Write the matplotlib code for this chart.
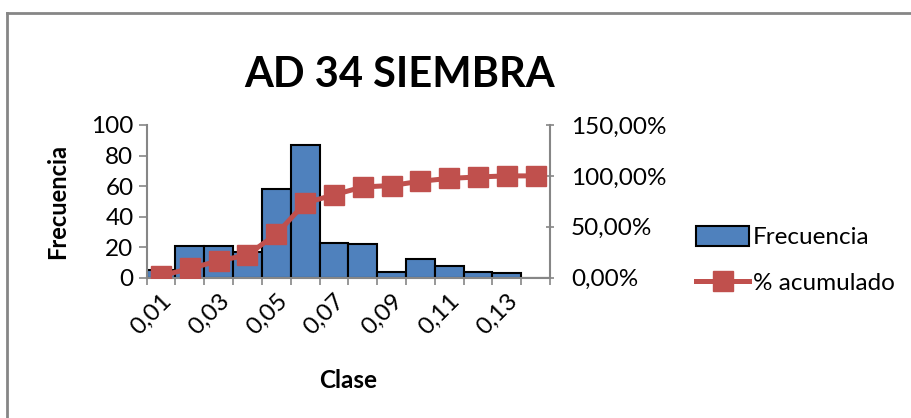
import matplotlib
matplotlib.use("Agg")
import matplotlib.pyplot as plt
from matplotlib.lines import Line2D
from matplotlib.patches import Patch
from matplotlib.ticker import FuncFormatter, FixedLocator

plt.rcParams['font.family'] = ['Lato', 'DejaVu Sans']

# data
clases = ['0,01', '0,02', '0,03', '0,04', '0,05', '0,06', '0,07',
          '0,08', '0,09', '0,10', '0,11', '0,12', '0,13', 'y mayor...']
frecuencia = [5, 21, 21, 17, 58, 87, 23, 22, 4, 12, 8, 4, 3, 0]
acumulado = [1.75, 9.12, 16.49, 22.46, 42.81, 73.33, 81.40,
             89.12, 90.53, 94.74, 97.54, 98.95, 100.0, 100.0]

blue = '#4F81BD'
red = '#C0504D'
grey = '#868686'
fs = 17.5

fig = plt.figure(figsize=(9.11, 4.18), dpi=100)
ax = fig.add_axes([0.161, 0.3356, 0.4427, 0.3654])
ax2 = ax.twinx()

x = list(range(len(clases)))
ax.bar(x, frecuencia, width=1.0, color=blue, edgecolor='black', linewidth=1.5, zorder=2)
ax2.plot(x, acumulado, color=red, linewidth=3.6, marker='s', markersize=14,
         markerfacecolor=red, markeredgecolor=red, zorder=3)

ax.set_xlim(-0.5, len(clases) - 0.5)
ax.set_ylim(0, 100)
ax.set_yticks(range(0, 101, 20))
ax2.set_ylim(0, 150)
ax2.set_yticks([0, 50, 100, 150])
ax2.yaxis.set_major_formatter(FuncFormatter(lambda v, p: f'{v:.2f}%'.replace('.', ',')))

# labels on every other class, tick marks on class boundaries
ax.set_xticks(x[::2])
ax.set_xticklabels(clases[::2], rotation=45, ha='right', rotation_mode='anchor', fontsize=fs)
ax.xaxis.set_minor_locator(FixedLocator([i - 0.5 for i in range(len(clases) + 1)]))
ax.tick_params(axis='x', which='major', length=0, pad=9)
ax.tick_params(axis='x', which='minor', length=5, color=grey, width=1.2)
ax.tick_params(axis='y', labelsize=fs, length=6, color=grey, width=1.2)
ax2.tick_params(axis='y', labelsize=fs, length=6, color=grey, width=1.2, direction='inout', pad=12)

for a in (ax, ax2):
    a.spines['top'].set_visible(False)
    for s in ('left', 'right', 'bottom'):
        a.spines[s].set_color(grey)
        a.spines[s].set_linewidth(1.5)
ax.spines['right'].set_visible(False)
ax2.spines['left'].set_visible(False)
ax2.spines['bottom'].set_visible(False)

ax.set_ylabel('Frecuencia', fontsize=17, fontweight='bold', labelpad=16)
ax.set_xlabel('Clase', fontsize=fs, fontweight='bold', labelpad=22)
fig.text(0.439, 0.82, 'AD 34 SIEMBRA', ha='center', va='center', fontsize=30, fontweight='bold')

handles = [Patch(facecolor=blue, edgecolor='black', linewidth=1.5),
           Line2D([0], [0], color=red, linewidth=3.6, marker='s', markersize=14)]
fig.legend(handles, ['Frecuencia', '% acumulado'], loc='center left',
           bbox_to_anchor=(0.740, 0.378), frameon=False, fontsize=fs,
           handlelength=2.2, handleheight=0.9, labelspacing=0.95, handletextpad=0.15)

# outer chart border (top and left edges visible)
fig.add_artist(Line2D([0.0082, 0.0082], [0, 0.970], color=grey, linewidth=2, transform=fig.transFigure))
fig.add_artist(Line2D([0.0082, 1.0], [0.970, 0.970], color=grey, linewidth=2, transform=fig.transFigure))

fig.savefig('out.png', dpi=100)
